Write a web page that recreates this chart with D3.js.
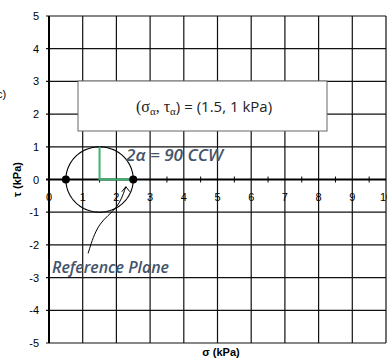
<!DOCTYPE html>
<html><head><meta charset="utf-8">
<script src="https://cdn.jsdelivr.net/npm/d3@7/dist/d3.min.js"></script>
<style>body{margin:0;background:#fff}svg{display:block}</style>
</head><body><svg id="c" width="387" height="360"></svg>
<script>
const xTicks = [0,1,2,3,4,5,6,7,8,9,10];
const yTicks = [-5,-4,-3,-2,-1,0,1,2,3,4,5];
const xMinor = [0.5,1.5,2.5,3.5,4.5,5.5,6.5,7.5,8.5,9.5];
const circleCenter = [1.5, 0];
const circleRadius = 1;
const principalPoints = [[0.5,0],[2.5,0]];
const stressPoint = [1.5, 1];
const referencePoint = [2.5, 0];
const arrowPath = [[1.16,-2.26],[1.45,-1.3],[2.05,-0.9],[2.28,-0.22]];

const svg = d3.select("#c");
const x = d3.scaleLinear().domain([0,10]).range([49,386]);
const y = d3.scaleLinear().domain([-5,5]).range([343,16]);

// grid
svg.append("g").selectAll("line.v").data(xTicks.filter(d=>d>0)).join("line")
  .attr("x1",d=>x(d)).attr("x2",d=>x(d)).attr("y1",y(5)).attr("y2",y(-5))
  .attr("stroke","#111").attr("stroke-width",1.2);
svg.append("g").selectAll("line.h").data(yTicks.filter(d=>d!==0)).join("line")
  .attr("x1",x(0)-3).attr("x2",x(10)).attr("y1",d=>y(d)).attr("y2",d=>y(d))
  .attr("stroke","#111").attr("stroke-width",1.2);

// axes
svg.append("line").attr("x1",x(0)).attr("x2",x(0)).attr("y1",y(5)).attr("y2",y(-5))
  .attr("stroke","#000").attr("stroke-width",2);
svg.append("line").attr("x1",x(0)-3).attr("x2",x(10)).attr("y1",y(0)).attr("y2",y(0))
  .attr("stroke","#000").attr("stroke-width",2);
svg.append("g").selectAll("line").data(xMinor).join("line")
  .attr("x1",d=>x(d)).attr("x2",d=>x(d)).attr("y1",y(0)-3).attr("y2",y(0)+3)
  .attr("stroke","#000").attr("stroke-width",1);

// y tick labels
svg.append("g").selectAll("text").data(yTicks).join("text")
  .attr("x",x(0)-10).attr("y",d=>y(d)+4).attr("text-anchor","end")
  .attr("font-family","Liberation Sans, Arial, sans-serif").attr("font-size",11)
  .text(d=>d);
// x tick labels
svg.append("g").selectAll("text").data(xTicks).join("text")
  .attr("x",d=>x(d)).attr("y",y(0)+21).attr("text-anchor","middle")
  .attr("font-family","Liberation Sans, Arial, sans-serif").attr("font-size",11)
  .text(d=>d);

// axis titles
svg.append("text").attr("transform",`translate(21,${y(0)}) rotate(-90)`)
  .attr("text-anchor","middle").attr("font-family","Liberation Sans, Arial, sans-serif")
  .attr("font-size",11).attr("font-weight","bold").text("τ (kPa)");
svg.append("text").attr("x",221).attr("y",356).attr("text-anchor","middle")
  .attr("font-family","Liberation Sans, Arial, sans-serif")
  .attr("font-size",11).attr("font-weight","bold").text("σ (kPa)");
svg.append("text").attr("x",-3).attr("y",98)
  .attr("font-family","Liberation Sans, Arial, sans-serif").attr("font-size",11).text("c)");

// annotation box
svg.append("rect").attr("x",78).attr("y",81).attr("width",249).attr("height",50)
  .attr("fill","#fff").attr("stroke","#666").attr("stroke-width",1);
const bt = svg.append("text").attr("x",204).attr("y",112).attr("text-anchor","middle")
  .attr("font-family","Liberation Serif, serif").attr("font-size",16).attr("fill","#222");
bt.append("tspan").text("(σ");
bt.append("tspan").attr("font-size",11).attr("dy",3).text("α");
bt.append("tspan").attr("dy",-3).text(", τ");
bt.append("tspan").attr("font-size",11).attr("dy",3).text("α");
bt.append("tspan").attr("dy",-3).attr("font-family","Open Sans, sans-serif").attr("font-size",15).text(") = (1.5, 1 kPa)");

// Mohr circle
const circ = d3.range(0,361,3).map(a=>[circleCenter[0]+circleRadius*Math.cos(a*Math.PI/180), circleCenter[1]+circleRadius*Math.sin(a*Math.PI/180)]);
svg.append("path").attr("d",d3.line().x(d=>x(d[0])).y(d=>y(d[1]))(circ))
  .attr("fill","none").attr("stroke","#000").attr("stroke-width",1.1);

// green lines
svg.append("path").attr("d",d3.line().x(d=>x(d[0])).y(d=>y(d[1]))([[stressPoint[0],stressPoint[1]],[circleCenter[0],circleCenter[1]],referencePoint]))
  .attr("fill","none").attr("stroke","#3cb371").attr("stroke-width",2);

// points
svg.append("g").selectAll("circle").data(principalPoints).join("circle")
  .attr("cx",d=>x(d[0])).attr("cy",d=>y(d[1])).attr("r",4).attr("fill","#000");

// arrow
svg.append("path").attr("d",d3.line().curve(d3.curveBasis).x(d=>x(d[0])).y(d=>y(d[1]))(arrowPath))
  .attr("fill","none").attr("stroke","#000").attr("stroke-width",1);
const tip = arrowPath[arrowPath.length-1];
svg.append("path").attr("d",`M${x(tip[0])-4},${y(tip[1])+5}L${x(tip[0])},${y(tip[1])}L${x(tip[0])+4},${y(tip[1])+5}`)
  .attr("fill","none").attr("stroke","#000").attr("stroke-width",1);

// italic labels
svg.append("text").attr("x",126).attr("y",161).attr("font-family","Open Sans, sans-serif")
  .attr("font-style","italic").attr("font-weight","600").attr("font-size",16).attr("fill","#44546a")
  .attr("textLength",97).attr("lengthAdjust","spacingAndGlyphs").text("2α = 90 CCW");
svg.append("text").attr("x",52).attr("y",273).attr("font-family","Open Sans, sans-serif")
  .attr("font-style","italic").attr("font-weight","600").attr("font-size",16).attr("fill","#44546a")
  .attr("textLength",117).attr("lengthAdjust","spacingAndGlyphs").text("Reference Plane");
</script></body></html>
